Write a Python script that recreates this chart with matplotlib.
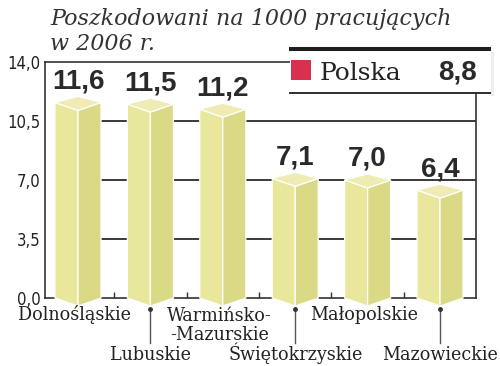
import numpy as np
import matplotlib
matplotlib.use("Agg")
import matplotlib.pyplot as plt
from matplotlib.patches import Polygon, Rectangle

# data
regions = ["Dolnośląskie", "Lubuskie", "Warmińsko-\n-Mazurskie",
           "Świętokrzyskie", "Małopolskie", "Mazowieckie"]
values = [11.6, 11.5, 11.2, 7.1, 7.0, 6.4]
value_labels = ["11,6", "11,5", "11,2", "7,1", "7,0", "6,4"]
yticks = [0.0, 3.5, 7.0, 10.5, 14.0]
ytick_labels = ["0,0", "3,5", "7,0", "10,5", "14,0"]
title = "Poszkodowani na 1000 pracujących\nw 2006 r."
poland_label = "Polska"
poland_value = "8,8"

W, H = 500, 366
fig = plt.figure(figsize=(W / 100, H / 100), dpi=100)

# main axes: pixel box x 45..476, y 62..298 (from top)
ax = fig.add_axes([45 / W, (H - 298) / H, (476 - 45) / W, (298 - 62) / H])
ax.set_ylim(0, 14)
ax.set_xlim(-0.456, 5.497)
px = 3.5 / 59.0  # data units per pixel (y)

half_w = 0.318
up, down = 6 * px, 8 * px
c_left, c_right, c_top = "#e8e79b", "#dad985", "#eeecb2"
cat_font = dict(family="DejaVu Serif", stretch="condensed", fontsize=14,
                color="#222222")
num_font = dict(family=["Liberation Sans", "DejaVu Sans"], fontsize=20,
                fontweight="bold", color="#2a2a2a")

# gridlines
for yv in yticks[1:4]:
    ax.plot([0, 5.497], [yv, yv], color="#2b2b2b", lw=1.3, zorder=1)

for i, v in enumerate(values):
    c = i
    left = [(c - half_w, 0), (c, -down), (c, v - down), (c - half_w, v)]
    right = [(c, -down), (c + half_w, 0), (c + half_w, v), (c, v - down)]
    top = [(c - half_w, v), (c, v + up), (c + half_w, v), (c, v - down)]
    for pts, col in [(left, c_left), (right, c_right), (top, c_top)]:
        ax.add_patch(Polygon(pts, closed=True, facecolor=col, edgecolor="white",
                             lw=0.9, zorder=3, clip_on=False))
    ax.text(c, v + 14 * px, value_labels[i], ha="center", va="baseline",
            zorder=4, **num_font)

    # category labels alternating rows (baseline = last line)
    nl = regions[i].count("\n")
    if i % 2 == 0:
        ax.text(c - 0.05, -(22 + 20 * nl) * px, regions[i], ha="center",
                va="baseline", linespacing=1.05, clip_on=False, **cat_font)
    else:
        ax.text(c, -62 * px, regions[i], ha="center", va="baseline",
                clip_on=False, **cat_font)
        ax.plot([c, c], [-11 * px, -45 * px], color="#555555", lw=1,
                clip_on=False, zorder=2)
        ax.plot([c], [-11 * px], "o", ms=2.5, color="#333333", clip_on=False)

ax.set_yticks(yticks)
ax.set_yticklabels(ytick_labels, family="DejaVu Sans", stretch="condensed",
                   fontsize=12, color="#222222")
mids = [i + 0.5 for i in range(len(values) - 1)]
ax.set_xticks(mids)
ax.set_xticklabels([])
ax.tick_params(axis="x", direction="in", length=4, width=1, color="#333333")
ax.tick_params(axis="y", length=0, pad=3)
for s in ax.spines.values():
    s.set_color("#333333")
    s.set_linewidth(1.2)

# overlay in pixel coords for title and Polska box
ov = fig.add_axes([0, 0, 1, 1], zorder=5)
ov.set_xlim(0, W)
ov.set_ylim(H, 0)
ov.axis("off")
ov.text(50, 50, title, ha="left", va="baseline", fontsize=16, style="italic",
        family="DejaVu Serif", color="#333333", linespacing=1.15)
ov.add_patch(Rectangle((491, 52), 3, 44, facecolor="#eeeeee", lw=0))
ov.add_patch(Rectangle((290, 49), 201, 44, facecolor="white", lw=0))
ov.plot([289, 491], [49, 49], color="#1e1e1e", lw=2.9, solid_capstyle="butt")
ov.plot([289, 491], [93, 93], color="#1e1e1e", lw=1.3, solid_capstyle="butt")
ov.add_patch(Rectangle((291, 60), 20, 20, facecolor="#d93050", lw=0))
ov.text(320, 80, poland_label, ha="left", va="baseline", fontsize=18,
        family="DejaVu Serif", color="#222222")
ov.text(477, 80, poland_value, ha="right", va="baseline", **num_font)

fig.savefig("out.png", dpi=100)
